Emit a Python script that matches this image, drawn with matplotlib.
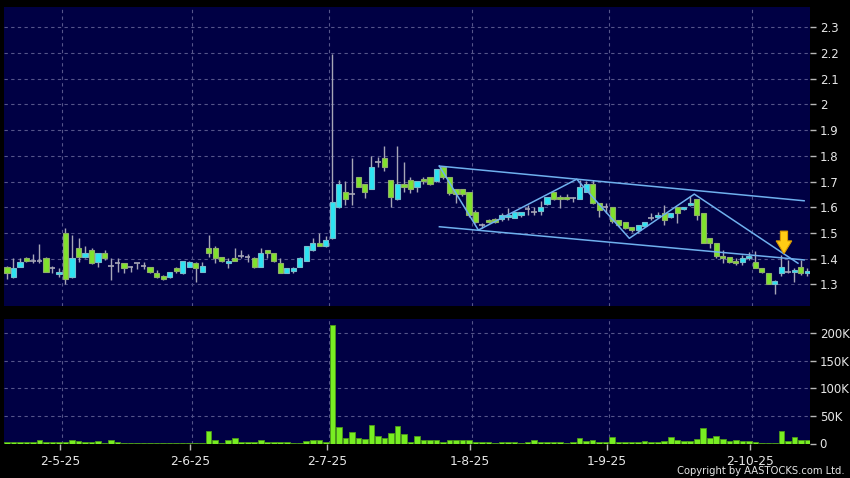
import numpy as np
import matplotlib
matplotlib.use("Agg")
import matplotlib.pyplot as plt
from matplotlib.patches import FancyArrow

# daily candles, oldest first (open, high, low, close)
opens = [1.369, 1.330, 1.369, 1.401, 1.390, 1.390, 1.401, 1.362, 1.342, 1.498,
         1.330, 1.440, 1.408, 1.434, 1.388, 1.421, 1.371, 1.382, 1.382, 1.366,
         1.382, 1.373, 1.369, 1.343, 1.332, 1.330, 1.362, 1.343, 1.369, 1.382,
         1.349, 1.440, 1.440, 1.408, 1.382, 1.401, 1.410, 1.405, 1.401, 1.369,
         1.434, 1.421, 1.382, 1.343, 1.352, 1.369, 1.391, 1.434, 1.460, 1.451,
         1.479, 1.599, 1.658, 1.651, 1.719, 1.689, 1.669, 1.777, 1.790, 1.706,
         1.631, 1.690, 1.706, 1.677, 1.708, 1.719, 1.703, 1.758, 1.719, 1.670,
         1.670, 1.658, 1.583, 1.531, 1.550, 1.553, 1.553, 1.563, 1.559, 1.570,
         1.592, 1.583, 1.586, 1.611, 1.658, 1.638, 1.638, 1.634, 1.632, 1.661,
         1.689, 1.617, 1.602, 1.599, 1.550, 1.541, 1.524, 1.511, 1.528, 1.557,
         1.561, 1.579, 1.561, 1.600, 1.592, 1.610, 1.631, 1.579, 1.479, 1.459,
         1.410, 1.408, 1.392, 1.388, 1.401, 1.388, 1.362, 1.343, 1.301, 1.343,
         1.349, 1.349, 1.369, 1.343]
highs = [1.372, 1.401, 1.401, 1.405, 1.418, 1.457, 1.405, 1.372, 1.362, 1.521,
         1.492, 1.479, 1.450, 1.440, 1.421, 1.434, 1.401, 1.401, 1.382, 1.373,
         1.382, 1.388, 1.369, 1.356, 1.336, 1.349, 1.369, 1.391, 1.391, 1.388,
         1.388, 1.492, 1.450, 1.408, 1.401, 1.440, 1.434, 1.418, 1.408, 1.440,
         1.434, 1.421, 1.401, 1.365, 1.369, 1.408, 1.450, 1.479, 1.498, 1.488,
         2.196, 1.706, 1.702, 1.791, 1.719, 1.689, 1.800, 1.797, 1.838, 1.706,
         1.838, 1.777, 1.719, 1.702, 1.719, 1.719, 1.747, 1.761, 1.719, 1.670,
         1.670, 1.658, 1.590, 1.540, 1.553, 1.557, 1.576, 1.598, 1.580, 1.580,
         1.609, 1.602, 1.624, 1.638, 1.658, 1.647, 1.650, 1.641, 1.706, 1.702,
         1.706, 1.617, 1.615, 1.599, 1.550, 1.541, 1.524, 1.531, 1.544, 1.576,
         1.583, 1.608, 1.579, 1.602, 1.602, 1.644, 1.631, 1.579, 1.479, 1.459,
         1.433, 1.408, 1.401, 1.413, 1.427, 1.430, 1.362, 1.343, 1.318, 1.413,
         1.395, 1.362, 1.395, 1.362]
lows = [1.321, 1.323, 1.366, 1.386, 1.382, 1.382, 1.346, 1.343, 1.330, 1.300,
        1.326, 1.388, 1.401, 1.379, 1.369, 1.395, 1.317, 1.349, 1.343, 1.347,
        1.360, 1.360, 1.343, 1.326, 1.317, 1.326, 1.343, 1.339, 1.366, 1.310,
        1.349, 1.408, 1.382, 1.388, 1.362, 1.391, 1.401, 1.388, 1.362, 1.369,
        1.401, 1.388, 1.343, 1.343, 1.343, 1.369, 1.391, 1.430, 1.451, 1.447,
        1.475, 1.595, 1.609, 1.609, 1.677, 1.637, 1.669, 1.758, 1.739, 1.599,
        1.628, 1.661, 1.656, 1.661, 1.690, 1.686, 1.699, 1.708, 1.648, 1.615,
        1.645, 1.560, 1.540, 1.518, 1.540, 1.537, 1.547, 1.550, 1.557, 1.563,
        1.570, 1.570, 1.570, 1.608, 1.628, 1.595, 1.628, 1.621, 1.632, 1.661,
        1.611, 1.563, 1.576, 1.540, 1.524, 1.515, 1.505, 1.498, 1.524, 1.550,
        1.557, 1.531, 1.558, 1.537, 1.590, 1.605, 1.551, 1.462, 1.440, 1.401,
        1.382, 1.382, 1.375, 1.375, 1.395, 1.362, 1.343, 1.300, 1.261, 1.333,
        1.343, 1.310, 1.337, 1.333]
closes = [1.343, 1.362, 1.388, 1.391, 1.390, 1.390, 1.349, 1.362, 1.349, 1.321,
          1.401, 1.408, 1.421, 1.382, 1.421, 1.401, 1.371, 1.382, 1.362, 1.366,
          1.382, 1.373, 1.349, 1.330, 1.319, 1.349, 1.352, 1.391, 1.388, 1.362,
          1.371, 1.421, 1.401, 1.391, 1.391, 1.391, 1.410, 1.405, 1.369, 1.421,
          1.421, 1.391, 1.343, 1.365, 1.365, 1.401, 1.450, 1.460, 1.451, 1.473,
          1.622, 1.689, 1.631, 1.651, 1.677, 1.658, 1.758, 1.777, 1.758, 1.638,
          1.690, 1.677, 1.669, 1.702, 1.702, 1.690, 1.747, 1.719, 1.657, 1.651,
          1.651, 1.570, 1.544, 1.531, 1.544, 1.544, 1.570, 1.570, 1.580, 1.580,
          1.592, 1.583, 1.599, 1.638, 1.631, 1.631, 1.631, 1.634, 1.680, 1.689,
          1.615, 1.589, 1.602, 1.546, 1.531, 1.520, 1.511, 1.531, 1.544, 1.557,
          1.570, 1.550, 1.579, 1.579, 1.600, 1.618, 1.570, 1.462, 1.459, 1.410,
          1.401, 1.388, 1.382, 1.401, 1.410, 1.362, 1.349, 1.300, 1.314, 1.369,
          1.349, 1.356, 1.343, 1.352]

# volume in thousands of shares
volume_k = [2.4, 3, 2.4, 2.4, 3, 6, 2.4, 2, 2, 3,
            7, 5, 3.5, 2, 4, 1.5, 6, 2.4, 1, 1,
            1, 1.5, 1.5, 1, 1, 1.5, 1.5, 1.5, 1.5, 0.5,
            0.5, 23, 6.7, 1, 5.5, 9.7, 2, 2, 2.4, 6,
            3.6, 2, 2, 2, 0.6, 1.2, 4.2, 5.5, 6, 3,
            215, 30, 10, 20.6, 9.7, 7.3, 33, 13, 10, 19,
            32, 17.6, 3.6, 14, 6, 7, 6, 3, 7, 6.7,
            6, 5.5, 2.4, 3, 2.4, 1.2, 2.4, 2.4, 2, 1.2,
            2, 6, 3.6, 2, 2, 2, 1.2, 2.4, 10, 4.2,
            5.5, 3.6, 2.4, 11.5, 3.6, 2.4, 3, 2.4, 4.2, 2,
            3.6, 4.8, 12, 5.5, 4.8, 4.2, 7.3, 29, 9.7, 14.5,
            8, 4.8, 5.5, 4.2, 4.8, 2, 1.2, 0.6, 0.6, 22,
            4.2, 11.5, 5.5, 5.5]

# first trading day of each month shown (bar index) and its label
month_start = [9, 29, 50, 72, 93, 115]
month_labels = ["2-5-25", "2-6-25", "2-7-25", "1-8-25", "1-9-25", "2-10-25"]

price_ticks = [1.3, 1.4, 1.5, 1.6, 1.7, 1.8, 1.9, 2.0, 2.1, 2.2, 2.3]
price_labels = ["1.3", "1.4", "1.5", "1.6", "1.7", "1.8", "1.9", "2", "2.1", "2.2", "2.3"]
vol_ticks_k = [0, 50, 100, 150, 200]
vol_labels = ["0", "50K", "100K", "150K", "200K"]

# drawn trend lines: (bar index, price)
channel_top = ([66.45, 122.5], [1.760, 1.625])
channel_bottom = ([66.45, 122.5], [1.524, 1.395])
zigzag = ([66.45, 72.44, 87.56, 95.64, 105.62, 121.55],
          [1.760, 1.511, 1.709, 1.479, 1.651, 1.382])
arrow_bar, arrow_top, arrow_tip = 119.4, 1.507, 1.419

BG = "#000044"
GRID = "#55558a"
UP_FACE, UP_EDGE = "#2de4f2", "#74bccc"
DN_FACE, DN_EDGE = "#80e22c", "#8fae6a"
WICK = "#a6a6b6"
TXT = "#e6e6e6"
LINE = "#6fb0ee"

o = np.array(opens)
h = np.array(highs)
l = np.array(lows)
c = np.array(closes)
v = np.array(volume_k) * 1000
x = np.arange(len(o))

fig = plt.figure(figsize=(8.5, 4.78), dpi=100, facecolor="black")
ax = fig.add_axes([4 / 850, 1 - 306 / 478, 806 / 850, 299 / 478])
axv = fig.add_axes([4 / 850, 1 - 443.5 / 478, 806 / 850, 124.5 / 478])

grid_x = np.array(month_start) - 0.5
for a in (ax, axv):
    a.set_facecolor(BG)
    for s in a.spines.values():
        s.set_visible(False)
    a.set_xlim(-0.45, 123.4)
    for gx in grid_x:
        a.axvline(gx, color=GRID, lw=0.8, ls=(0, (3, 3)), zorder=1)
    a.yaxis.tick_right()
    a.tick_params(axis="y", colors="#b8b8b8", labelcolor=TXT, length=4,
                  width=1, pad=3, labelsize=8.5)

# price panel
ax.set_ylim(1.2156, 2.379)
ax.set_yticks(price_ticks)
ax.set_yticklabels(price_labels)
for py in price_ticks:
    ax.axhline(py, color=GRID, lw=0.8, ls=(0, (3, 3)), zorder=1)
ax.set_xticks([])

ax.vlines(x, l, h, color=WICK, lw=1, zorder=2)
doji = np.isclose(o, c)
up = (c > o) & ~doji
dn = (c < o) & ~doji
ax.hlines(c[doji], x[doji] - 0.42, x[doji] + 0.42, color=WICK, lw=1.2, zorder=3)
for mask, fc, ec in ((up, UP_FACE, UP_EDGE), (dn, DN_FACE, DN_EDGE)):
    ax.bar(x[mask], np.maximum(np.abs(c[mask] - o[mask]), 0.004),
           bottom=np.minimum(o[mask], c[mask]), width=0.8,
           color=fc, edgecolor=ec, linewidth=0.8, zorder=3)

for xs, ys in (channel_top, channel_bottom, zigzag):
    ax.plot(xs, ys, color=LINE, lw=1.1, zorder=4)

ax.add_patch(FancyArrow(arrow_bar, arrow_top, 0, arrow_tip - arrow_top,
                        width=1.1, head_width=2.4, head_length=0.05,
                        length_includes_head=True, fc="#ffcc14",
                        ec="#d99a00", lw=0.8, zorder=5))

# volume panel
axv.set_ylim(0, 226000)
axv.set_yticks([t * 1000 for t in vol_ticks_k])
axv.set_yticklabels(vol_labels)
for vy in vol_ticks_k[1:]:
    axv.axhline(vy * 1000, color=GRID, lw=0.8, ls=(0, (3, 3)), zorder=1)
axv.bar(x, v, width=0.86, color="#78ee22", edgecolor="#4c9a18",
        linewidth=0.6, zorder=3)
axv.set_xticks(grid_x - 0.3)
axv.set_xticklabels(month_labels)
axv.tick_params(axis="x", colors="#b8b8b8", labelcolor=TXT, length=4,
                width=1, pad=4, labelsize=8.8)

fig.text(0.994, 0.0136, "Copyright by AASTOCKS.com Ltd.", ha="right",
         va="center", color=TXT, fontsize=8, fontstretch="condensed")

fig.savefig("out.png", dpi=100, facecolor="black")
